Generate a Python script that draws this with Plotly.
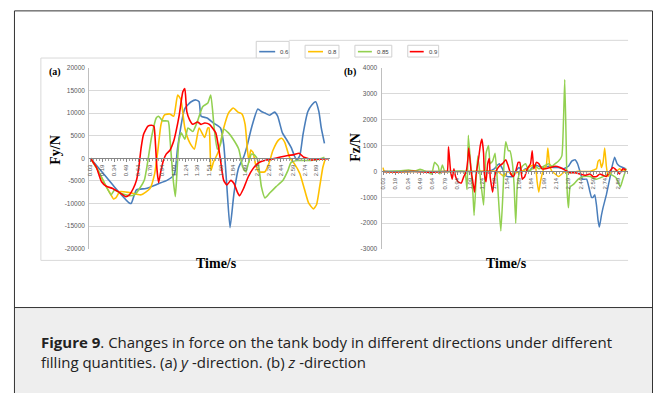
import plotly.graph_objects as go

W, H = 656, 396

# ---------------- data ----------------
series_names = ["0.6", "0.8", "0.85", "0.9"]
series_colors = ["#4A7EBB", "#FFC000", "#92D050", "#FF0000"]

x_tick_vals = [0.03, 0.18, 0.33, 0.48, 0.63, 0.78, 0.93, 1.08, 1.23, 1.38,
               1.53, 1.68, 1.83, 1.98, 2.13, 2.28, 2.43, 2.58, 2.73, 2.88]
x_tick_text = ["0.03", "0.19", "0.34", "0.49", "0.64", "0.79", "0.94", "1.09", "1.24", "1.39",
               "1.54", "1.69", "1.84", "1.99", "2.14", "2.29", "2.44", "2.59", "2.74", "2.89"]

fy_ticks = [-20000, -15000, -10000, -5000, 0, 5000, 10000, 15000, 20000]
fy_ticktext = ["-20000", "-15000", "-10000", "-5000", "0", "5000", "10000", "15000", "20000"]
fz_ticks = [-3000, -2000, -1000, 0, 1000, 2000, 3000, 4000]
fz_ticktext = ["-3000", "-2000", "-1000", "0", "1000", "2000", "3000", "4000"]

# (a) Fy
fy_t_06 = [0.03, 0.16, 0.33, 0.52, 0.545, 0.61, 0.73, 0.88, 1.0, 1.08, 1.10, 1.13, 1.22, 1.30, 1.36,
           1.40, 1.425, 1.50, 1.58, 1.67, 1.71, 1.75, 1.79, 1.84, 1.90, 1.96, 2.0, 2.06, 2.14, 2.19,
           2.23, 2.29, 2.35, 2.39, 2.45, 2.50, 2.56, 2.60, 2.63, 2.67, 2.71, 2.77, 2.82, 2.87, 2.91,
           2.94, 2.98]
fy_v_06 = [0, -2700, -6300, -9900, -10000, -7000, -6700, -5700, -4850, -3800, -2700, 2400, 11000, 12500, 12900,
           12500, 9300, 8900, 7800, 6700, 3100, -6300, -15350, -7700, -2000, 200, 2400, 6700, 10900, 10300,
           10000, 9500, 10200, 9300, 5600, 4200, 2400, 600, -400, 600, 5300, 10300, 11800, 12500, 10300,
           6700, 3300]

fy_t_08 = [0.03, 0.12, 0.205, 0.27, 0.32, 0.35, 0.40, 0.52, 0.67, 0.78, 0.84, 0.88, 0.92, 0.965, 1.03,
           1.08, 1.13, 1.17, 1.22, 1.28, 1.34, 1.40, 1.47, 1.51, 1.525, 1.55, 1.58, 1.64, 1.71, 1.77,
           1.83, 1.89, 1.94, 1.98, 2.01, 2.03, 2.05, 2.08, 2.11, 2.15, 2.23, 2.28, 2.33, 2.40, 2.44,
           2.48, 2.54, 2.60, 2.67, 2.73, 2.78, 2.84, 2.88, 2.92, 2.96, 2.99]
fy_v_08 = [0, -2500, -5500, -7500, -9000, -8800, -7400, -7600, -8100, -6700, -3400, 1700, 7500, 9600, 9800,
           9300, 14000, 13000, 6700, 3500, 2000, 6700, 4600, 6700, 6700, -2700, -900, 1300, 6700, 10000,
           11100, 10200, 9800, 7500, 1700, -900, 1800, 1300, -1200, -3000, -3000, -1200, 1700, 4000, 4400,
           3500, 200, -1200, -3400, -7000, -9900, -11200, -10300, -6300, -2000, -150]

fy_t_085 = [0.03, 0.12, 0.21, 0.29, 0.335, 0.40, 0.52, 0.585, 0.65, 0.71, 0.755, 0.80, 0.86, 0.89, 0.94,
            1.01, 1.035, 1.07, 1.10, 1.12, 1.145, 1.175, 1.22, 1.26, 1.32, 1.38, 1.445, 1.51, 1.547, 1.59,
            1.63, 1.67, 1.71, 1.77, 1.83, 1.90, 1.95, 1.99, 2.02, 2.06, 2.10, 2.14, 2.185, 2.23, 2.29,
            2.37, 2.46, 2.52, 2.56, 2.64, 2.81, 2.90, 2.98]
fy_v_085 = [0, -2500, -5600, -8100, -7000, -7700, -8300, -8100, -6700, -4800, -500, 4600, 8900, 9300, 8300,
            8200, 3800, -4100, -8500, -3400, 3800, 5600, 4200, 6700, 5900, 8200, 11400, 12200, 14000, 6700,
            2000, 3100, 6400, 5600, 4200, 2000, -2000, -3000, -1200, 900, 700, -500, -6300, -8800, -7700,
            -6300, -4800, -2700, -900, -500, -500, -300, 200]

fy_t_09 = [0.03, 0.105, 0.17, 0.23, 0.31, 0.38, 0.44, 0.475, 0.52, 0.57, 0.61, 0.64, 0.67, 0.70, 0.755,
           0.80, 0.83, 0.85, 0.87, 0.89, 0.92, 0.95, 0.985, 1.03, 1.08, 1.11, 1.15, 1.195, 1.22, 1.245,
           1.28, 1.32, 1.38, 1.425, 1.47, 1.53, 1.61, 1.67, 1.71, 1.75, 1.80, 1.84, 1.88, 1.91, 1.96,
           2.02, 2.08, 2.16, 2.245, 2.33, 2.41, 2.52, 2.60, 2.66, 2.72, 2.79, 2.81, 2.90, 3.03]
fy_v_09 = [0, -2000, -5200, -6200, -6700, -7400, -8100, -8500, -8100, -6700, -4900, -2000, 2400, 5300, 7100,
           7300, 7100, 3100, -2700, -5400, -2700, -500, 900, 1700, 3800, 6000, 9600, 14700, 15400, 10300,
           8500, 7500, 8000, 7500, 7800, 7500, 5600, -500, -4900, -5900, -4900, -5600, -7400, -8300, -6700,
           -4100, -2300, -900, -400, -150, 200, 600, 800, 1100, 200, -150, -400, -200, -100]

# (b) Fz
fz_t_06 = [0.03, 0.5, 1.0, 1.30, 1.38, 1.42, 1.44, 1.48, 1.50, 1.54, 1.60, 1.64, 1.68, 1.72, 1.76,
           1.80, 1.84, 1.88, 1.92, 1.98, 2.04, 2.10, 2.16, 2.22, 2.28, 2.32, 2.36, 2.39, 2.42, 2.45,
           2.50, 2.52, 2.56, 2.58, 2.60, 2.62, 2.64, 2.655, 2.68, 2.70, 2.74, 2.78, 2.81, 2.84, 2.87,
           2.90, 2.94, 2.98]
fz_v_06 = [0, 0, 0, 0, 100, 250, 300, 100, -100, -200, -200, 0, 150, 0, 100,
           0, 150, 250, 200, 150, 200, 150, 150, 100, 200, 400, 450, 300, 0, -300,
           -300, -500, -1000, -1000, -900, -1300, -1900, -2150, -1700, -1400, -900, -300, 200, 550, 300,
           200, 150, 100]

fz_t_08 = [0.03, 0.045, 0.5, 1.0, 1.42, 1.50, 1.54, 1.60, 1.70, 1.78, 1.82, 1.86, 1.88, 1.90, 1.92,
           1.94, 1.98, 2.01, 2.03, 2.05, 2.08, 2.12, 2.16, 2.20, 2.24, 2.30, 2.38, 2.46, 2.54, 2.58,
           2.62, 2.64, 2.66, 2.68, 2.70, 2.72, 2.74, 2.76, 2.78, 2.82, 2.86, 2.90, 2.94, 2.98]
fz_v_08 = [150, 0, 0, 0, 0, -200, 0, -100, 0, 100, 200, 250, 200, -400, -800,
           -400, 100, 200, 900, 300, 0, -100, -200, -100, 0, -50, 0, 0, 0, 50,
           100, 400, 450, 150, 350, 900, 200, -200, -100, 0, 0, 100, 0, 100]

fz_t_085 = [0.03, 0.20, 0.34, 0.42, 0.48, 0.55, 0.62, 0.655, 0.70, 0.72, 0.75, 0.78, 0.90, 1.02, 1.05,
            1.065, 1.10, 1.12, 1.135, 1.16, 1.18, 1.22, 1.25, 1.28, 1.31, 1.33, 1.36, 1.39, 1.42, 1.44,
            1.46, 1.49, 1.50, 1.52, 1.55, 1.57, 1.60, 1.62, 1.64, 1.66, 1.69, 1.72, 1.76, 1.80, 1.84,
            1.88, 1.92, 1.98, 2.04, 2.08, 2.12, 2.16, 2.20, 2.22, 2.235, 2.25, 2.265, 2.28, 2.30, 2.34,
            2.40, 2.46, 2.54, 2.62, 2.70, 2.78, 2.86, 2.91, 2.94, 2.98]
fz_v_085 = [0, 20, 50, 20, 80, 0, -100, 350, 200, -100, 250, 0, 0, 0, -700,
            1400, 0, -800, -1700, -300, 600, -500, -1300, 700, 1000, 300, 400, 700, -500, -1500,
            -2300, -500, 500, 1150, 800, 800, 300, -500, -2000, -500, 0, 200, 300, 0, 100,
            200, 100, 200, 300, 200, 300, 400, 600, 2000, 3550, 1500, -800, -1400, -600, -500,
            -300, -200, -200, -300, -200, -100, -250, -600, -300, 100]

fz_t_09 = [0.03, 0.2, 0.4, 0.6, 0.78, 0.81, 0.825, 0.85, 0.87, 0.89, 0.91, 0.94, 0.98, 1.01, 1.04,
           1.06, 1.07, 1.10, 1.12, 1.14, 1.16, 1.19, 1.21, 1.23, 1.25, 1.26, 1.28, 1.30, 1.32, 1.33,
           1.36, 1.38, 1.40, 1.44, 1.48, 1.52, 1.55, 1.58, 1.61, 1.64, 1.67, 1.69, 1.72, 1.75, 1.78,
           1.82, 1.84, 1.86, 1.89, 1.92, 1.96, 2.00, 2.06, 2.12, 2.18, 2.24, 2.30, 2.36, 2.42, 2.48,
           2.54, 2.58, 2.62, 2.66, 2.70, 2.74, 2.78, 2.82, 2.86, 2.90, 2.94, 2.98]
fz_v_09 = [0, -20, 10, -30, 0, 0, 950, 0, -300, 100, -200, -400, -450, -200, 0,
           500, 900, 0, -400, -800, -100, 500, 1000, 1250, 700, -100, -400, 300, 500, -200,
           -800, -300, 0, 200, 300, 450, 200, -100, -200, 0, 350, 350, -300, -200, 100,
           300, 800, 100, 350, 300, 100, 100, 150, 200, 150, 50, -50, -50, -100, -150,
           -100, -200, -200, -100, -150, -200, 0, 150, 50, -100, 100, 50]

# ---------------- helpers ----------------
def px(x):
    return x / W

def py(y):
    return 1 - y / H

A_X = (87.5, 329.0)
A_Y = (65.0, 249.0)
B_X = (380.7, 627.7)
B_Y = (65.0, 249.5)
FY_RANGE = [-20000, 20000]
FZ_RANGE = [-3000, 4000]

def zero_pos(ydom_px, rng):
    y0 = py(ydom_px[1])
    y1 = py(ydom_px[0])
    return y0 + (0 - rng[0]) / (rng[1] - rng[0]) * (y1 - y0)

fig = go.Figure()

fy_sets = [(fy_t_06, fy_v_06), (fy_t_08, fy_v_08), (fy_t_085, fy_v_085), (fy_t_09, fy_v_09)]
fz_sets = [(fz_t_06, fz_v_06), (fz_t_08, fz_v_08), (fz_t_085, fz_v_085), (fz_t_09, fz_v_09)]

for (t, v), name, col in zip(fy_sets, series_names, series_colors):
    fig.add_trace(go.Scatter(x=t, y=v, mode="lines", name=name, showlegend=False,
                             line=dict(color=col, width=1.6, shape="spline", smoothing=0.5),
                             xaxis="x", yaxis="y"))
for (t, v), name, col in zip(fz_sets, series_names, series_colors):
    fig.add_trace(go.Scatter(x=t, y=v, mode="lines", name=name, showlegend=False,
                             line=dict(color=col, width=1.5, shape="spline", smoothing=0.4),
                             xaxis="x2", yaxis="y2"))

xtickfont = dict(family="Liberation Sans, Arial, sans-serif", size=6, color="#595959")
ytickfont = dict(family="Liberation Sans, Arial, sans-serif", size=6.5, color="#595959")
xcommon = dict(tickvals=x_tick_vals, ticktext=x_tick_text, tickangle=-90, tickfont=xtickfont,
               showline=True, linecolor="#868686", linewidth=1, showgrid=False, zeroline=False,
               ticks="outside", ticklen=3, tickcolor="#868686",
               minor=dict(ticks="outside", ticklen=2, tick0=0.03, dtick=0.0375, tickcolor="#A0A0A0"),
               anchor="free", fixedrange=True)
ycommon = dict(tickfont=ytickfont, showgrid=True, gridcolor="#D9D9D9", gridwidth=1,
               showline=True, linecolor="#BFBFBF", linewidth=1, zeroline=False, ticks="",
               ticklabelstandoff=2, fixedrange=True)

fig.update_layout(
    width=W, height=H, margin=dict(l=0, r=0, t=0, b=0),
    paper_bgcolor="white", plot_bgcolor="rgba(0,0,0,0)", showlegend=False,
    xaxis=dict(domain=[px(A_X[0]), px(A_X[1])], range=[0.015, 3.05],
               position=zero_pos(A_Y, FY_RANGE), **xcommon),
    yaxis=dict(domain=[py(A_Y[1]), py(A_Y[0])], range=FY_RANGE, anchor="x",
               tickvals=fy_ticks, ticktext=fy_ticktext, **ycommon),
    xaxis2=dict(domain=[px(B_X[0]), px(B_X[1])], range=[0.012, 3.0],
                position=zero_pos(B_Y, FZ_RANGE), **xcommon),
    yaxis2=dict(domain=[py(B_Y[1]), py(B_Y[0])], range=FZ_RANGE, anchor="x2",
                tickvals=fz_ticks, ticktext=fz_ticktext, **ycommon),
)

shapes = []
# caption band and outer frame
shapes.append(dict(type="rect", xref="paper", yref="paper", x0=px(12.5), x1=px(652.5),
                   y0=py(396), y1=py(309), fillcolor="#EEEEEE", line=dict(width=0), layer="below"))
frame = dict(color="#333333", width=1)
for (x0, y0, x1, y1) in [(12.5, 7, 652.5, 7), (12.5, 7, 12.5, 396), (652.5, 7, 652.5, 396),
                         (12.5, 309, 652.5, 309)]:
    shapes.append(dict(type="line", xref="paper", yref="paper", x0=px(x0), y0=py(y0),
                       x1=px(x1), y1=py(y1), line=frame))
# light chart-area borders
light = dict(color="#D9D9D9", width=1)
for (x0, y0, x1, y1) in [(39, 55, 255, 55), (39, 55, 39, 261), (39, 261, 628, 261),
                         (288, 37, 628, 37)]:
    shapes.append(dict(type="line", xref="paper", yref="paper", x0=px(x0), y0=py(y0),
                       x1=px(x1), y1=py(y1), line=light, layer="below"))

# legend boxes + sample lines
legend_boxes = [(255, 38, 288, 55), (304, 42, 338, 55), (354, 42, 391, 54), (407, 42, 438, 54)]
legend_lines = [(258, 274), (307, 322), (357, 371), (409, 423)]
legend_text_x = [277, 325, 374, 426]
annotations = []
for (bx0, by0, bx1, by1), (lx0, lx1), tx, name, col in zip(legend_boxes, legend_lines, legend_text_x,
                                                          series_names, series_colors):
    shapes.append(dict(type="rect", xref="paper", yref="paper", x0=px(bx0), x1=px(bx1),
                       y0=py(by1), y1=py(by0), line=dict(color="#D0D0D0", width=1),
                       fillcolor="white", layer="below"))
    shapes.append(dict(type="line", xref="paper", yref="paper", x0=px(lx0), x1=px(lx1),
                       y0=py(48.5), y1=py(48.5), line=dict(color=col, width=1.6)))
    annotations.append(dict(x=px(tx), y=py(48.5), xref="paper", yref="paper", text=name,
                            showarrow=False, xanchor="left", yanchor="middle",
                            font=dict(family="Liberation Sans, Arial, sans-serif", size=6,
                                      color="#404040")))

serif = "Liberation Serif, Times New Roman, serif"
def ann(x, y, text, size, angle=0, xanchor="center", family=serif, color="black", align="center"):
    annotations.append(dict(x=px(x), y=py(y), xref="paper", yref="paper", text=text,
                            showarrow=False, xanchor=xanchor, yanchor="middle", align=align,
                            textangle=angle, font=dict(family=family, size=size, color=color)))

ann(53, 69, "<b>(a)</b>", 10)
ann(349.5, 69, "<b>(b)</b>", 10)
ann(53.5, 148, "<b>Fy/N</b>", 14, angle=-90)
ann(354.5, 146, "<b>Fz/N</b>", 14, angle=-90)
ann(215, 264, "<b>Time/s</b>", 14)
ann(506, 264, "<b>Time/s</b>", 14)

cap_font = "Open Sans, Noto Sans, sans-serif"
ann(37, 354.5,
    "<b>Figure 9</b>. Changes in force on the tank body in different directions under different"
    "<br>filling quantities. (a) <i>y</i> -direction. (b) <i>z</i> -direction",
    15, xanchor="left", family=cap_font, color="#222222", align="left")

fig.update_layout(shapes=shapes, annotations=annotations)
fig.write_html("out.html")
